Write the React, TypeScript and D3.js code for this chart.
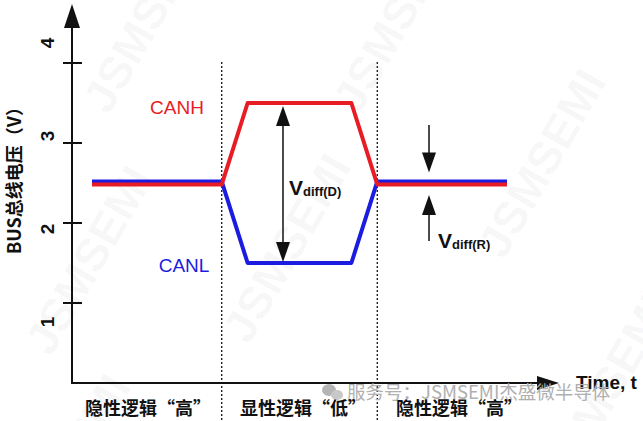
import { line, scaleLinear } from "d3";

// time points (arbitrary units) and bus voltages
const times = [0, 5, 6, 10, 11, 16];
const canhValues = [2.48, 2.48, 3.5, 3.5, 2.48, 2.48];
const canlValues = [2.52, 2.52, 1.5, 1.5, 2.52, 2.52];
const phaseBounds = [5, 11];
const yTicks = [1, 2, 3, 4];
const phaseLabels = ["隐性逻辑“高”", "显性逻辑“低”", "隐性逻辑“高”"];
const phaseLabelX = [148, 303, 459];
const vdiffD = [3.5, 1.5];
const vdiffR = [2.63, 2.35];
const watermarks = [
    [92, 262], [290, 250], [545, 165], [150, 20], [400, 20], [610, 390], [70, 470],
];

const W = 643;
const H = 421;
const cn = "'Noto Sans CJK SC', 'Noto Sans', sans-serif";
const ls = "'Liberation Sans', Arial, sans-serif";

export default function App() {
    const x = scaleLinear().domain([0, 16]).range([92, 507]);
    const y = scaleLinear().domain([0, 4]).range([383, 63]);
    // tick labels sit on their own spacing in the source figure
    const yLabel = scaleLinear().domain([1, 4]).range([322, 43]);

    const pts = (vals: number[]) => times.map((t, i) => [t, vals[i]] as [number, number]);
    const path = line<[number, number]>()
        .x(d => x(d[0]))
        .y(d => y(d[1]));

    const axisX = 72;
    const axisY = 383;
    const red = "#e81c24";
    const blue = "#1c1ce0";

    const arrowDown = (cx: number, tip: number) =>
        `M${cx - 7},${tip - 20}L${cx + 7},${tip - 20}L${cx},${tip}Z`;
    const arrowUp = (cx: number, tip: number) =>
        `M${cx - 7},${tip + 20}L${cx + 7},${tip + 20}L${cx},${tip}Z`;

    const dx = 283;
    const rx = 429;

    return (
        <svg width={W} height={H} viewBox={`0 0 ${W} ${H}`}
            style={{ position: "absolute", left: 0, top: 0, background: "#fff" }}>
            {/* watermarks */}
            {watermarks.map(([cx, cy], i) => (
                <text key={i} x={cx} y={cy} transform={`rotate(-60 ${cx} ${cy})`}
                    textAnchor="middle" dominantBaseline="middle" fontFamily={ls}
                    fontSize={46} fontWeight="bold" fill="#000" fillOpacity={0.04}>JSMSEMI</text>
            ))}

            {/* phase dividers */}
            {phaseBounds.map(t => (
                <line key={t} x1={x(t)} x2={x(t)} y1={62} y2={H}
                    stroke="#222" strokeWidth={1.4} strokeDasharray="2,2" />
            ))}

            {/* y axis */}
            <line x1={axisX} x2={axisX} y1={axisY} y2={20} stroke="#111" strokeWidth={2} />
            <path d={`M${axisX - 8},28L${axisX + 8},28L${axisX},4Z`} fill="#111" />
            {yTicks.map(v => (
                <line key={v} x1={axisX - 9} x2={axisX + 10} y1={y(v)} y2={y(v)} stroke="#111" strokeWidth={2} />
            ))}
            {yTicks.map(v => (
                <text key={v} x={47} y={yLabel(v)} transform={`rotate(-90 47 ${yLabel(v)})`}
                    textAnchor="middle" dominantBaseline="central" fontFamily={ls}
                    fontSize={19} fontWeight="bold" fill="#111">{v}</text>
            ))}
            <text x={13} y={176} transform="rotate(-90 13 176)" textAnchor="middle"
                dominantBaseline="central" fontFamily={cn} fontSize={18} fontWeight="bold"
                fill="#111">BUS总线电压（V）</text>

            {/* x axis */}
            <line x1={axisX - 1} x2={540} y1={axisY} y2={axisY} stroke="#111" strokeWidth={2} />
            <path d={`M537,${axisY - 7}L537,${axisY + 7}L559,${axisY}Z`} fill="#111" />
            <text x={576} y={389} fontFamily={ls} fontSize={19} fontWeight="bold" fill="#111">Time, t</text>

            {/* watermark footer */}
            <g fill="#b4b4b4">
                <ellipse cx={329} cy={390} rx={7} ry={6} />
                <ellipse cx={337} cy={395} rx={6} ry={5} fill="#c8c8c8" />
            </g>
            <text x={347} y={399} fontFamily={cn} fontSize={18.5} fill="#b0b0b0">服务号：JSMSEMI杰盛微半导体</text>

            {phaseLabels.map((s, i) => (
                <text key={i} x={phaseLabelX[i]} y={415} textAnchor="middle" fontFamily={cn}
                    fontSize={18} fontWeight="bold" fill="#111">{s}</text>
            ))}

            {/* bus signals */}
            <path d={path(pts(canlValues)) ?? ""} fill="none" stroke={blue} strokeWidth={4} strokeLinejoin="round" />
            <path d={path(pts(canhValues)) ?? ""} fill="none" stroke={red} strokeWidth={4} strokeLinejoin="round" />

            <text x={177} y={114} textAnchor="middle" fontFamily={ls} fontSize={19} fill={red}>CANH</text>
            <text x={184} y={272} textAnchor="middle" fontFamily={ls} fontSize={19} fill={blue}>CANL</text>

            {/* Vdiff(D) */}
            <line x1={dx} x2={dx} y1={y(vdiffD[0]) + 10} y2={y(vdiffD[1]) - 10} stroke="#111" strokeWidth={1.5} />
            <path d={arrowUp(dx, y(vdiffD[0]) + 3)} fill="#111" />
            <path d={arrowDown(dx, y(vdiffD[1]) - 1)} fill="#111" />
            <text x={289} y={195} fontFamily={ls} fontWeight="bold" fill="#111">
                <tspan fontSize={21}>V</tspan>
                <tspan fontSize={13} dy={1}>diff(D)</tspan>
            </text>

            {/* Vdiff(R) */}
            <line x1={rx} x2={rx} y1={125} y2={y(vdiffR[0]) - 10} stroke="#111" strokeWidth={1.5} />
            <path d={arrowDown(rx, y(vdiffR[0]))} fill="#111" />
            <line x1={rx} x2={rx} y1={y(vdiffR[1]) + 10} y2={241} stroke="#111" strokeWidth={1.5} />
            <path d={arrowUp(rx, y(vdiffR[1]))} fill="#111" />
            <text x={438} y={248} fontFamily={ls} fontWeight="bold" fill="#111">
                <tspan fontSize={21}>V</tspan>
                <tspan fontSize={13} dy={1}>diff(R)</tspan>
            </text>
        </svg>
    );
}
